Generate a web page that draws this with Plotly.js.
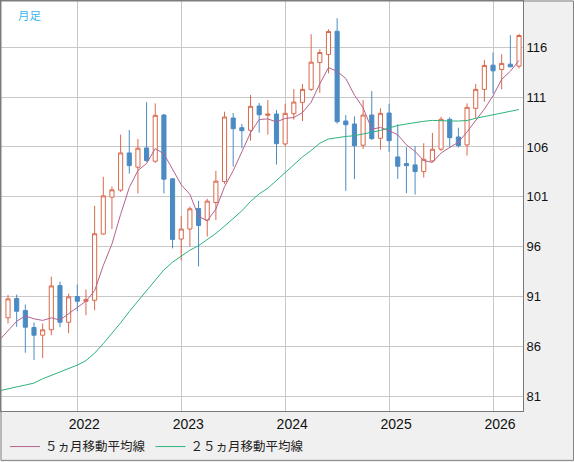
<!DOCTYPE html>
<html><head><meta charset="utf-8">
<script src="https://cdn.plot.ly/plotly-3.0.1.min.js"></script>
<style>html,body{margin:0;padding:0;background:#f0f0f0}#chart{width:574px;height:462px}</style>
</head><body><div id="chart"></div>
<script>
// Month categories (first one only carries the moving-average lines)
const months = ['2021-04','2021-05','2021-06','2021-07','2021-08','2021-09','2021-10','2021-11','2021-12',
 '2022-01','2022-02','2022-03','2022-04','2022-05','2022-06','2022-07','2022-08','2022-09','2022-10','2022-11','2022-12',
 '2023-01','2023-02','2023-03','2023-04','2023-05','2023-06','2023-07','2023-08','2023-09','2023-10','2023-11','2023-12',
 '2024-01','2024-02','2024-03','2024-04','2024-05','2024-06','2024-07','2024-08','2024-09','2024-10','2024-11','2024-12',
 '2025-01','2025-02','2025-03','2025-04','2025-05','2025-06','2025-07','2025-08','2025-09','2025-10','2025-11','2025-12',
 '2026-01','2026-02','2026-03','2026-04'];
const candleMonths = months.slice(1);

const openV  = [88.87,90.8,89.6,87.9,87.13,87.67,92.1,88.43,91.0,90.53,90.63,97.27,100.97,101.67,105.4,103.97,105.9,104.57,109.2,102.8,
  96.77,97.77,99.83,98.67,100.43,102.53,108.9,107.93,107.67,110.1,109.17,109.3,106.3,109.33,110.47,111.77,114.47,115.27,117.6,108.6,
  108.3,106.17,109.2,106.87,109.4,105.0,104.33,104.2,103.53,104.6,105.77,108.77,107.0,106.2,109.87,111.77,114.2,113.77,114.3,114.1];
const highV  = [91.17,91.2,90.2,88.4,88.3,93.0,92.5,91.3,92.2,91.7,100.1,103.0,102.03,107.23,107.7,106.8,110.5,110.37,109.3,102.9,
  99.1,100.03,100.6,100.8,103.6,109.53,109.4,108.3,111.2,110.4,110.7,109.7,110.33,111.8,112.3,117.3,115.8,117.8,118.9,109.2,
  109.07,110.7,111.6,109.87,110.33,108.27,105.97,106.1,106.37,107.4,109.03,108.97,107.93,110.37,112.3,114.73,115.47,115.3,117.2,117.33];
const lowV   = [88.3,87.97,85.37,84.63,84.83,87.13,87.93,87.33,89.53,89.13,89.63,97.2,97.77,101.5,103.33,101.33,104.5,104.4,101.33,95.83,
  94.63,96.03,94.03,97.03,98.67,102.3,104.03,105.87,106.63,107.43,107.23,104.23,106.07,108.73,108.6,111.6,111.43,113.37,108.33,101.6,
  102.77,105.8,106.7,105.73,105.5,102.8,101.37,101.23,102.93,104.5,105.6,105.93,105.93,105.13,108.87,110.53,111.37,111.77,114.0,113.87];
const closeV = [90.77,89.53,87.93,87.13,87.67,92.07,88.43,90.97,90.53,90.7,97.3,101.1,101.7,105.4,104.13,105.87,104.63,109.17,102.77,96.73,
  97.77,99.8,98.13,100.57,102.57,109.0,107.83,107.63,110.07,109.23,109.3,106.33,109.37,110.5,111.77,114.5,115.47,117.57,108.53,108.23,
  106.13,109.2,106.83,109.37,106.63,104.07,104.13,103.53,104.77,105.77,108.77,106.93,106.13,109.97,111.77,114.17,113.63,114.37,114.03,117.17];

const ma5  = [86.63,87.55,88.53,89.05,88.77,88.61,88.87,88.65,89.25,89.93,90.54,91.59,94.12,96.27,99.24,101.93,103.64,104.35,105.84,105.31,103.83,
  102.21,101.25,99.04,98.6,99.77,102.01,103.62,105.52,107.42,108.75,108.81,108.51,108.86,108.95,109.45,110.49,112.32,113.96,113.57,112.86,
  111.19,109.93,107.78,107.95,107.63,107.22,106.21,105.55,104.63,104.45,105.39,105.95,106.47,107.51,108.71,109.79,111.13,112.78,113.59,114.67];
const ma25 = [81.55,81.77,81.95,82.13,82.33,82.76,83.11,83.44,83.78,84.13,84.58,85.33,86.28,87.28,88.37,89.5,90.55,91.6,92.55,93.68,94.45,
  95.07,95.65,96.1,96.68,97.33,98.06,98.82,99.6,100.53,101.3,101.86,102.65,103.45,104.3,105.0,105.65,106.37,106.8,106.95,107.05,
  107.13,107.27,107.47,107.65,107.88,108.15,108.3,108.45,108.57,108.66,108.6,108.6,108.6,108.65,108.87,109.05,109.27,109.45,109.6,109.75];

const yearTicks  = ['2022-01','2023-01','2024-01','2025-01','2026-01'];
const yearLabels = ['2022','2023','2024','2025','2026'];
const priceTicks = [81,86,91,96,101,106,111,116];
const ma5Name  = '５ヵ月移動平均線';
const ma25Name = '２５ヵ月移動平均線';

const UP = '#d9694b', DOWN = '#4b8bc3';
const data = [
  {type:'candlestick', x:candleMonths, open:openV, high:highV, low:lowV, close:closeV,
   increasing:{line:{color:UP,width:1}, fillcolor:'#ffffff'},
   decreasing:{line:{color:DOWN,width:1}, fillcolor:DOWN},
   whiskerwidth:0, showlegend:false, hoverinfo:'skip'},
  {type:'scatter', mode:'lines', x:months, y:ma5, name:ma5Name, line:{color:'#b5628e',width:1}, hoverinfo:'skip'},
  {type:'scatter', mode:'lines', x:months, y:ma25, name:ma25Name, line:{color:'#2db37b',width:1}, hoverinfo:'skip'}
];

const layout = {
  width:574, height:462,
  margin:{l:1,r:51,t:1,b:50,pad:0},
  paper_bgcolor:'#f0f0f0', plot_bgcolor:'#ffffff',
  font:{family:'Liberation Sans, Arial, sans-serif', color:'#111'},
  boxgap:0.32,
  showlegend:true,
  xaxis:{type:'category', categoryorder:'array', categoryarray:months,
    range:[0.19,60.46], tickmode:'array', tickvals:yearTicks, ticktext:yearLabels,
    showgrid:true, gridcolor:'#c8c8c8', gridwidth:1, ticks:'', zeroline:false,
    showline:true, mirror:true, linecolor:'#787878', linewidth:1,
    tickfont:{size:14,color:'#111'}, ticklabelshift:7,
    rangeslider:{visible:false}, fixedrange:true},
  yaxis:{side:'right', range:[79.53,120.63], tickmode:'array', tickvals:priceTicks,
    showgrid:true, gridcolor:'#c8c8c8', gridwidth:1, ticks:'', zeroline:false,
    showline:true, mirror:true, linecolor:'#787878', linewidth:1,
    tickfont:{size:13,color:'#111'}, fixedrange:true},
  legend:{orientation:'h', x:0.0077, xanchor:'left', y:-0.085, yanchor:'middle',
    bgcolor:'rgba(0,0,0,0)', itemwidth:30,
    font:{family:'Noto Sans CJK JP, sans-serif', size:12.5, color:'#222'}},
  annotations:[{text:'月足', xref:'paper', yref:'paper', x:0.0287, y:0.99, xanchor:'left', yanchor:'top',
    showarrow:false, font:{family:'Noto Sans CJK JP, sans-serif', size:11.5, color:'#3ab4ec'}}],
  shapes:[{type:'rect', xref:'paper', yref:'paper', x0:0, x1:1.0968, y0:-0.1204, y1:1.0,
    line:{color:'#808080',width:1}, fillcolor:'rgba(0,0,0,0)', layer:'above'}]
};
Plotly.newPlot('chart', data, layout, {staticPlot:true, displayModeBar:false});
</script></body></html>
